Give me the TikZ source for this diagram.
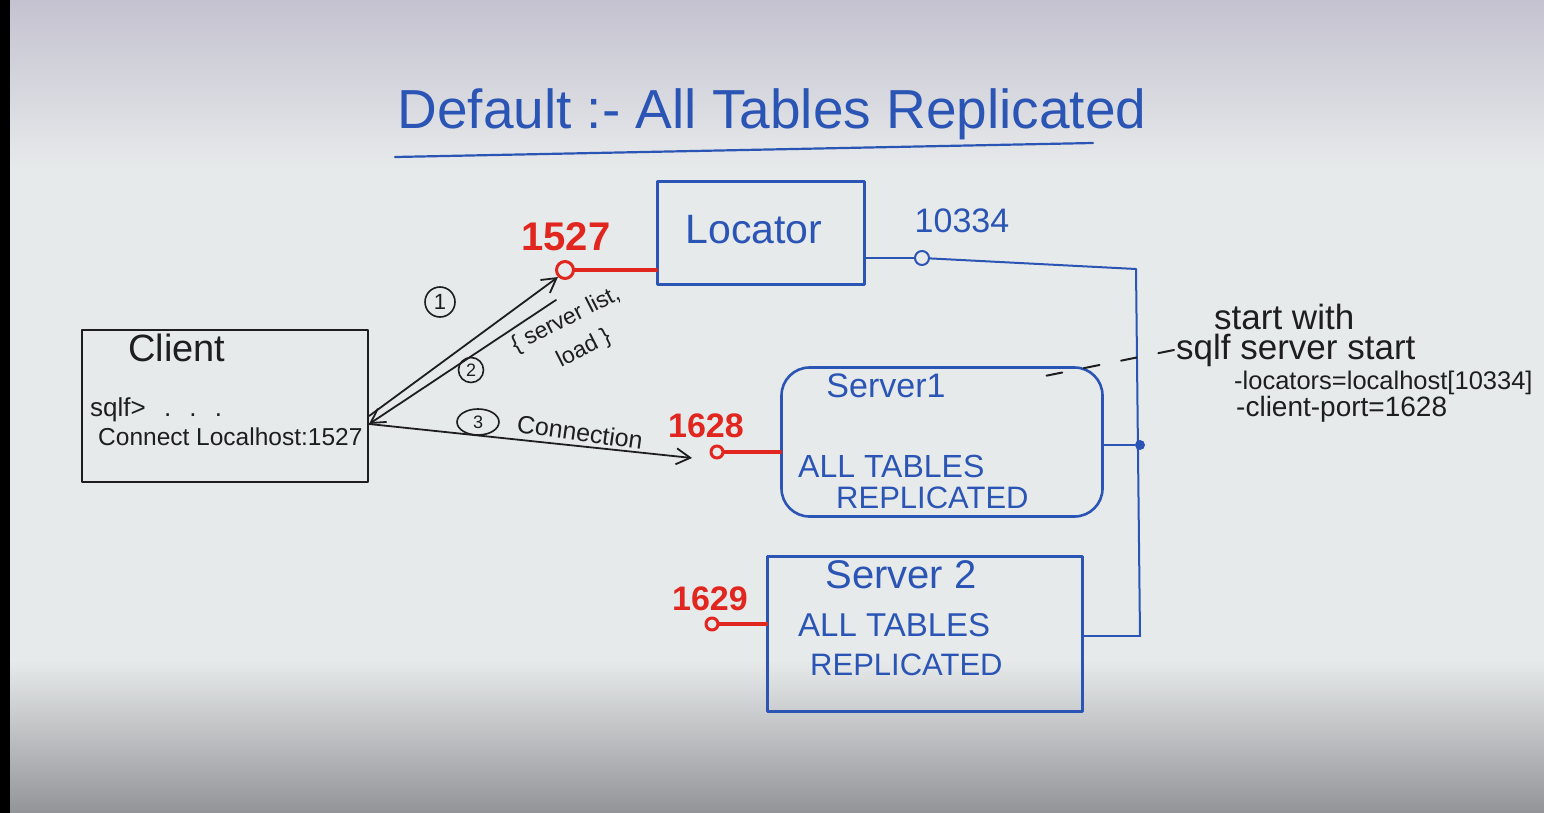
\documentclass[tikz,border=0pt]{standalone}
\usepackage{fontspec}
\setmainfont{Liberation Sans}
\usetikzlibrary{arrows.meta,calc,shapes.geometric}
\definecolor{ink}{HTML}{2B55B5}
\definecolor{redink}{HTML}{E0261E}
\definecolor{blackink}{HTML}{1E1E22}
\definecolor{boardtop}{HTML}{C4C2D0}
\definecolor{boardmid}{HTML}{E7EAEB}
\definecolor{boardbot}{HTML}{939498}
\newcommand\fsz[1]{\fontsize{#1}{#1}\selectfont}
\tikzset{
  box/.style={draw=ink, line width=2.6pt, inner sep=0pt},
  kbox/.style={draw=blackink, line width=2.2pt, inner sep=0pt},
  bluetxt/.style={text=ink, inner sep=2pt},
  blacktxt/.style={text=blackink, inner sep=2pt},
  redtxt/.style={text=redink, inner sep=2pt, font=\bfseries\fsz{34}},
  port/.style={circle, line width=3pt, inner sep=0pt},
  redwire/.style={draw=redink, line width=4pt},
  wire/.style={draw=ink, line width=2pt},
  arr/.style={draw=blackink, line width=1.8pt, -{Straight Barb[length=14pt,width=16pt]}},
  num/.style={draw=blackink, line width=1.6pt, inner sep=1pt, text=blackink},
}
\begin{document}
\begin{tikzpicture}[x=1pt, y=-1pt, line join=round, line cap=round]
\useasboundingbox (0,0) rectangle (1544,813);
% whiteboard surface, darker towards the upper and lower edges
\fill[boardmid] (0,0) rectangle (1544,813);
\shade[top color=boardtop, bottom color=boardmid] (0,0) rectangle (1544,170);
\shade[top color=boardmid, bottom color=boardbot] (0,660) rectangle (1544,813);
\fill[black] (0,0) rectangle (10,813);

% title
\node[bluetxt, font=\fsz{55}] (title) at (772,114) {Default :- All Tables Replicated};
\coordinate (ul1) at (395,157);
\coordinate (ul2) at (1093,143);
\draw[ink, line width=2.2pt] (ul1) -- (ul2);

% boxes
\node[box, minimum width=207pt, minimum height=103pt] (loc) at (761,233) {};
\node[bluetxt, font=\fsz{41}] (loctxt) at (754,230) {Locator};

\node[kbox, minimum width=286pt, minimum height=152pt] (cl) at (225,406) {};
\node[blacktxt, anchor=west, font=\fsz{38}] (cltitle) at (126,348) {Client};
\node[blacktxt, anchor=west, font=\fsz{26}] (prompt) at (88,410) {sqlf>\hspace{0.7em}.\hspace{0.7em}.\hspace{0.7em}.};
\node[blacktxt, anchor=west, font=\fsz{24.5}] (cmd) at (96,437) {Connect Localhost:1527};

\node[box, rounded corners=28pt, minimum width=321pt, minimum height=149pt] (s1) at (942,442) {};
\node[bluetxt, font=\fsz{34}] (s1name) at (886,386) {Server1};
\node[bluetxt, anchor=west, font=\fsz{32}] (s1a) at (796,466) {ALL TABLES};
\node[bluetxt, anchor=west, font=\fsz{31}] (s1b) at (834,498) {REPLICATED};

\node[box, minimum width=315pt, minimum height=155pt] (s2) at (925,634) {};
\node[bluetxt, font=\fsz{40}] (s2name) at (901,575) {Server 2};
\node[bluetxt, anchor=west, font=\fsz{33}] (s2a) at (796,625) {ALL TABLES};
\node[bluetxt, anchor=west, font=\fsz{31}] (s2b) at (808,665) {REPLICATED};

% client ports (red)
\node[port, draw=redink, minimum size=17pt] (p1527) at (565,270) {};
\node[redtxt, font=\bfseries\fsz{40}] (l1527) at (566,237) {1527};
\draw[redwire] (p1527) -- (p1527 -| loc.west);

\node[port, draw=redink, minimum size=12pt] (p1628) at (717,452) {};
\node[redtxt] (l1628) at (706,426) {1628};
\draw[redwire] (p1628) -- (p1628 -| s1.west);

\node[port, draw=redink, minimum size=12pt] (p1629) at (712,624) {};
\node[redtxt] (l1629) at (710,599) {1629};
\draw[redwire] (p1629) -- (p1629 -| s2.west);

% locator port and peer bus (blue)
\node[port, draw=ink, line width=2pt, minimum size=14pt] (p10334) at (922,258) {};
\node[bluetxt, font=\fsz{34}] (l10334) at (962,221) {10334};
\draw[wire] (p10334 -| loc.east) -- (p10334);
\coordinate (btop) at (1136,269);
\coordinate (bbot) at (1140,636);
\node[circle, fill=ink, minimum size=10pt, inner sep=0pt] (bj) at (1140,445) {};
\draw[wire] (p10334) -- (btop) -- (bbot);
\draw[wire] (s1.east |- bj) -- (bj);
\draw[wire] (s2.east |- bbot) -- (bbot);

% client interactions
\coordinate (c1) at ($(cl.east)+(0,10)$);
\coordinate (cport) at ($(cl.east)+(0,18)$);
\coordinate (a2s) at (556,300);
\coordinate (a3e) at (692,458);
\draw[arr] (c1) -- (p1527.south west);
\draw[arr] (a2s) -- (cport);
\draw[arr] (cport) -- (a3e);

\node[num, circle, minimum size=30pt, font=\fsz{22}] (n1) at (440,302) {1};
\node[num, circle, minimum size=25pt, font=\fsz{18}] (n2) at (471,370) {2};
\node[num, ellipse, minimum width=42pt, minimum height=26pt, font=\fsz{18}] (n3) at (478,422) {3};
\node[blacktxt, rotate=27, font=\fsz{23}] (slist1) at (566,320) {\{ server list,};
\node[blacktxt, rotate=27, font=\fsz{23}] (slist2) at (584,349) {load \}};
\node[blacktxt, rotate=-8, font=\fsz{25}] (conn) at (580,432) {Connection};

% startup note
\node[blacktxt, anchor=west, font=\fsz{35}] (ann1) at (1212,317) {start with};
\node[blacktxt, anchor=west, font=\fsz{35}] (ann2) at (1174,350) {sqlf server start};
\node[blacktxt, anchor=west, font=\fsz{25.5}] (ann3) at (1232,383) {-locators=localhost[10334]};
\node[blacktxt, anchor=west, font=\fsz{28}] (ann4) at (1234,409) {-client-port=1628};
\coordinate (lead) at (1025,380);
\draw[blackink, line width=2pt, dash pattern=on 16pt off 22pt] (ann2.west) -- (lead);
\end{tikzpicture}
\end{document}
